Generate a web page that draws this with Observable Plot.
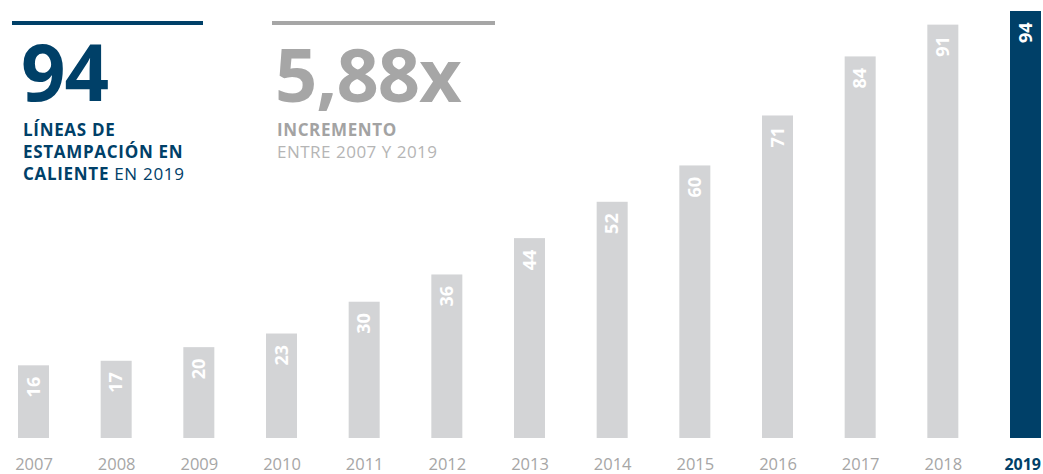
<!DOCTYPE html>
<html>
<head>
<meta charset="utf-8">
<script src="https://cdn.jsdelivr.net/npm/d3@7"></script>
<script src="https://cdn.jsdelivr.net/npm/@observablehq/plot@0.6"></script>
<style>
  html, body { margin: 0; padding: 0; background: #fff; }
  #wrap { position: relative; width: 1043px; height: 474px; font-family: "Open Sans", sans-serif; }
  .ann { position: absolute; white-space: nowrap; }
  .rule { position: absolute; height: 3.5px; }
</style>
</head>
<body>
<div id="wrap"></div>
<script>
const years = ["2007","2008","2009","2010","2011","2012","2013","2014","2015","2016","2017","2018","2019"];
const values = [16, 17, 20, 23, 30, 36, 44, 52, 60, 71, 84, 91, 94];
const highlightYear = "2019";

const gray = "#d3d4d6";
const blue = "#004068";
const labelGray = "#a6a6a6";

const data = years.map((y, i) => ({year: y, value: values[i]}));
const isHi = d => d.year === highlightYear;

const chart = Plot.plot({
  width: 1043,
  height: 474,
  marginLeft: 18,
  marginRight: 2,
  marginTop: 11,
  marginBottom: 36,
  style: {fontFamily: "'Open Sans', sans-serif", background: "transparent"},
  x: {type: "band", domain: years, paddingInner: 0.625, paddingOuter: 0, round: false, axis: null},
  y: {domain: [0, 94], axis: null},
  marks: [
    Plot.barY(data, {x: "year", y: "value", fill: d => isHi(d) ? blue : gray}),
    Plot.text(data, {
      x: "year", y: "value", text: d => String(d.value),
      rotate: -90, textAnchor: "end", dy: 11, fill: "#fff",
      fontWeight: "bold", fontSize: 18
    }),
    Plot.text(data.filter(d => !isHi(d)), {
      x: "year", y: 0, text: "year", dy: 26,
      fill: labelGray, fontSize: 16.5
    }),
    Plot.text(data.filter(isHi), {
      x: "year", y: 0, text: "year", dy: 26, dx: 15, textAnchor: "end",
      fill: blue, fontWeight: "bold", fontSize: 16
    })
  ]
});

const wrap = document.getElementById("wrap");
wrap.appendChild(chart);

const last = values[values.length - 1];
const ratio = (last / values[0]).toFixed(2).replace(".", ",") + "x";

function add(html, style, cls = "ann") {
  const d = document.createElement("div");
  d.className = cls;
  d.innerHTML = html;
  Object.assign(d.style, style);
  wrap.appendChild(d);
}

// left block
add("", {left: "12px", top: "21px", width: "191px", background: blue}, "rule");
add(String(last), {left: "21px", top: "32px", fontSize: "78px", fontWeight: "bold", color: blue, lineHeight: "1", letterSpacing: "-1px"});
add("<b>LÍNEAS DE</b><br><b>ESTAMPACIÓN EN</b><br><b>CALIENTE</b> EN " + highlightYear,
    {left: "23px", top: "119px", fontSize: "17px", lineHeight: "22px", color: blue, letterSpacing: "0.7px"});

// right block
add("", {left: "272px", top: "21px", width: "223px", background: "#a6a6a6"}, "rule");
add(ratio, {left: "275px", top: "37px", fontSize: "74px", fontWeight: "bold", color: "#a6a6a6", lineHeight: "1", letterSpacing: "-1px"});
add("<b>INCREMENTO</b>", {left: "277px", top: "119px", fontSize: "17px", lineHeight: "22px", color: "#a3a3a3", letterSpacing: "0.6px"});
add("ENTRE " + years[0] + " Y " + highlightYear, {left: "277px", top: "141px", fontSize: "17px", lineHeight: "22px", color: "#b5b5b5", letterSpacing: "0.5px"});
</script>
</body>
</html>
